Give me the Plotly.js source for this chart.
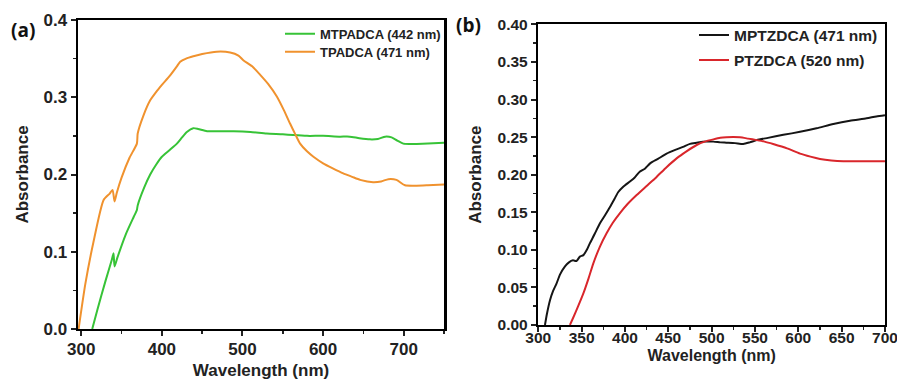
<!DOCTYPE html>
<html>
<head>
<meta charset="utf-8">
<script src="https://cdn.plot.ly/plotly-3.0.1.min.js"></script>
<style>
html,body{margin:0;padding:0;background:#fff;}
#chart{width:897px;height:381px;}
</style>
</head>
<body>
<div id="chart"></div>
<script>
// Panel (a)
const mtpadcaX = [313.6, 320, 330, 338, 340, 341.3, 345, 355, 365, 369, 370, 378, 385.5, 393, 400, 410, 418.6, 425, 431, 439, 445, 456, 470, 489, 510, 530, 550, 563, 580, 600, 620, 633, 645, 658, 668, 677, 685, 692, 699.6, 708, 716, 730, 750];
const mtpadcaY = [0.0, 0.025, 0.062, 0.09, 0.098, 0.081, 0.093, 0.122, 0.145, 0.154, 0.160, 0.183, 0.200, 0.213, 0.223, 0.232, 0.240, 0.248, 0.255, 0.260, 0.259, 0.256, 0.256, 0.256, 0.255, 0.253, 0.252, 0.251, 0.250, 0.250, 0.249, 0.249, 0.247, 0.2455, 0.246, 0.249, 0.248, 0.244, 0.240, 0.2395, 0.2395, 0.240, 0.241];
const tpadcaX = [296.7, 305, 315, 327.7, 335, 338.8, 341.3, 344, 350, 360, 369, 370, 377, 385.5, 393, 400, 410, 418.6, 422.7, 430, 439, 450, 468, 484.7, 495, 501, 512, 522, 532, 542.6, 551, 559, 566, 571.5, 580, 588, 600, 612, 625, 636, 646, 662, 672, 681, 691, 701.6, 716, 730, 750];
const tpadcaY = [0.0, 0.058, 0.112, 0.167, 0.175, 0.180, 0.165, 0.176, 0.196, 0.222, 0.240, 0.253, 0.276, 0.296, 0.307, 0.316, 0.328, 0.340, 0.346, 0.350, 0.353, 0.356, 0.359, 0.358, 0.354, 0.348, 0.340, 0.329, 0.317, 0.301, 0.284, 0.266, 0.251, 0.240, 0.230, 0.223, 0.2145, 0.208, 0.2015, 0.197, 0.193, 0.190, 0.191, 0.194, 0.193, 0.186, 0.1855, 0.186, 0.187];

// Panel (b)
const mptzdcaX = [307.7, 310, 313.5, 317, 321, 325, 330.8, 335, 340, 344, 348, 352, 356, 359.6, 365, 371, 377, 382.7, 388, 392.3, 398, 405.8, 411, 417, 423, 429, 438, 448, 458, 467, 475, 482.7, 490, 502, 510, 517, 527, 536.5, 544, 552, 565, 582.7, 602, 621, 640.4, 659.6, 678.8, 690, 700];
const mptzdcaY = [0.0, 0.015, 0.033, 0.045, 0.055, 0.067, 0.078, 0.083, 0.086, 0.085, 0.091, 0.093, 0.100, 0.109, 0.121, 0.135, 0.146, 0.157, 0.168, 0.177, 0.184, 0.191, 0.196, 0.204, 0.208, 0.215, 0.221, 0.228, 0.233, 0.237, 0.241, 0.2426, 0.244, 0.244, 0.243, 0.2426, 0.242, 0.2408, 0.243, 0.246, 0.249, 0.253, 0.257, 0.2617, 0.2674, 0.2718, 0.275, 0.2775, 0.279];
const ptzdcaX = [336.5, 340, 346, 352, 358, 363.5, 371, 378.8, 386, 394, 403, 413.5, 425, 436.5, 448, 459.6, 471, 482.7, 492, 502, 510, 517, 525, 532.7, 542, 552, 561, 571, 587, 602, 614, 625, 638, 652, 675, 700];
const ptzdcaY = [0.0, 0.009, 0.025, 0.042, 0.062, 0.082, 0.104, 0.122, 0.136, 0.1486, 0.161, 0.173, 0.185, 0.197, 0.210, 0.2217, 0.231, 0.2395, 0.244, 0.247, 0.249, 0.2497, 0.250, 0.2497, 0.248, 0.246, 0.244, 0.2408, 0.235, 0.228, 0.224, 0.221, 0.219, 0.218, 0.218, 0.218];

const seriesNames = ['MTPADCA (442 nm)', 'TPADCA (471 nm)', 'MPTZDCA (471 nm)', 'PTZDCA (520 nm)'];
const seriesColors = ['#37c337', '#f0922e', '#151515', '#d9262b'];

const boldFont = 'Liberation Sans, Arial, sans-serif';
const ink = '#222222';

function lineStyle(c) { return {color: c, width: 2, shape: 'spline', smoothing: 0.6}; }

const traces = [
  {x: mtpadcaX, y: mtpadcaY, name: seriesNames[0], type: 'scatter', mode: 'lines', line: lineStyle(seriesColors[0]), xaxis: 'x', yaxis: 'y', legend: 'legend'},
  {x: tpadcaX, y: tpadcaY, name: seriesNames[1], type: 'scatter', mode: 'lines', line: lineStyle(seriesColors[1]), xaxis: 'x', yaxis: 'y', legend: 'legend2'},
  {x: mptzdcaX, y: mptzdcaY, name: seriesNames[2], type: 'scatter', mode: 'lines', line: lineStyle(seriesColors[2]), xaxis: 'x2', yaxis: 'y2', legend: 'legend3'},
  {x: ptzdcaX, y: ptzdcaY, name: seriesNames[3], type: 'scatter', mode: 'lines', line: lineStyle(seriesColors[3]), xaxis: 'x2', yaxis: 'y2', legend: 'legend4'}
];

function axisBase(extra) {
  return Object.assign({
    showline: true, linecolor: '#000000', linewidth: 2.5, mirror: true,
    ticks: 'outside', ticklen: 5, tickwidth: 2, tickcolor: ink,
    showgrid: false, zeroline: false, ticklabeloverflow: 'allow',
    tickfont: {family: boldFont, size: 15.5, color: ink, weight: 'bold'}
  }, extra);
}

function legendAt(xPx, yPx, size) {
  return {x: xPx / 897, y: 1 - yPx / 381, xanchor: 'left', yanchor: 'top', bgcolor: 'rgba(0,0,0,0)', borderwidth: 0,
    font: {family: boldFont, size: size, color: ink, weight: 'bold'}};
}

const layout = {
  width: 897, height: 381,
  margin: {l: 0, r: 0, t: 0, b: 0},
  paper_bgcolor: '#fff', plot_bgcolor: '#fff',
  showlegend: true,
  xaxis: axisBase({domain: [0.087, 0.495], range: [296, 750], dtick: 100, tick0: 300,
    minor: {dtick: 50, ticks: 'outside', ticklen: 3, tickwidth: 1.5, tickcolor: ink},
    tickfont: {family: boldFont, size: 17, color: ink, weight: 'bold'},
    ticklabelstandoff: -2,
    title: {text: 'Wavelength (nm)', font: {family: boldFont, size: 17, color: ink, weight: 'bold'}, standoff: 6},
    anchor: 'y'}),
  yaxis: axisBase({domain: [0.1365, 0.9475], range: [0, 0.4], dtick: 0.1, tickformat: '.1f',
    minor: {dtick: 0.05, ticks: 'outside', ticklen: 3, tickwidth: 1.5, tickcolor: ink},
    tickfont: {family: boldFont, size: 17, color: ink, weight: 'bold'},
    title: {text: 'Absorbance', font: {family: boldFont, size: 17, color: ink, weight: 'bold'}, standoff: 11},
    anchor: 'x'}),
  xaxis2: axisBase({domain: [0.6001, 0.9866], range: [300, 700], dtick: 50, tick0: 300,
    minor: {dtick: 25, ticks: 'outside', ticklen: 3, tickwidth: 1.5, tickcolor: ink},
    ticklabelstandoff: -8,
    title: {text: 'Wavelength (nm)', font: {family: boldFont, size: 16, color: ink, weight: 'bold'}, standoff: 5},
    anchor: 'y2'}),
  yaxis2: axisBase({domain: [0.147, 0.936], range: [0, 0.4], dtick: 0.05, tickformat: '.2f',
    minor: {dtick: 0.025, ticks: 'outside', ticklen: 3, tickwidth: 1.5, tickcolor: ink},
    title: {text: 'Absorbance', font: {family: boldFont, size: 17, color: ink, weight: 'bold'}, standoff: 12},
    anchor: 'x2'}),
  legend: legendAt(280, 18.7, 13),
  legend2: legendAt(280, 36.7, 13),
  legend3: legendAt(694, 18.5, 15.5),
  legend4: legendAt(694, 43.5, 15.5),
  annotations: [
    {text: '(a)', xref: 'paper', yref: 'paper', x: 9/897, y: 1 - 30/381, xanchor: 'left', yanchor: 'middle', showarrow: false,
     font: {family: 'Open Sans, sans-serif', size: 19, color: '#111', weight: 'bold'}},
    {text: '(b)', xref: 'paper', yref: 'paper', x: 454/897, y: 1 - 25/381, xanchor: 'left', yanchor: 'middle', showarrow: false,
     font: {family: 'Open Sans, sans-serif', size: 19, color: '#111', weight: 'bold'}}
  ]
};

Plotly.newPlot('chart', traces, layout, {staticPlot: true, displayModeBar: false});
</script>
</body>
</html>
